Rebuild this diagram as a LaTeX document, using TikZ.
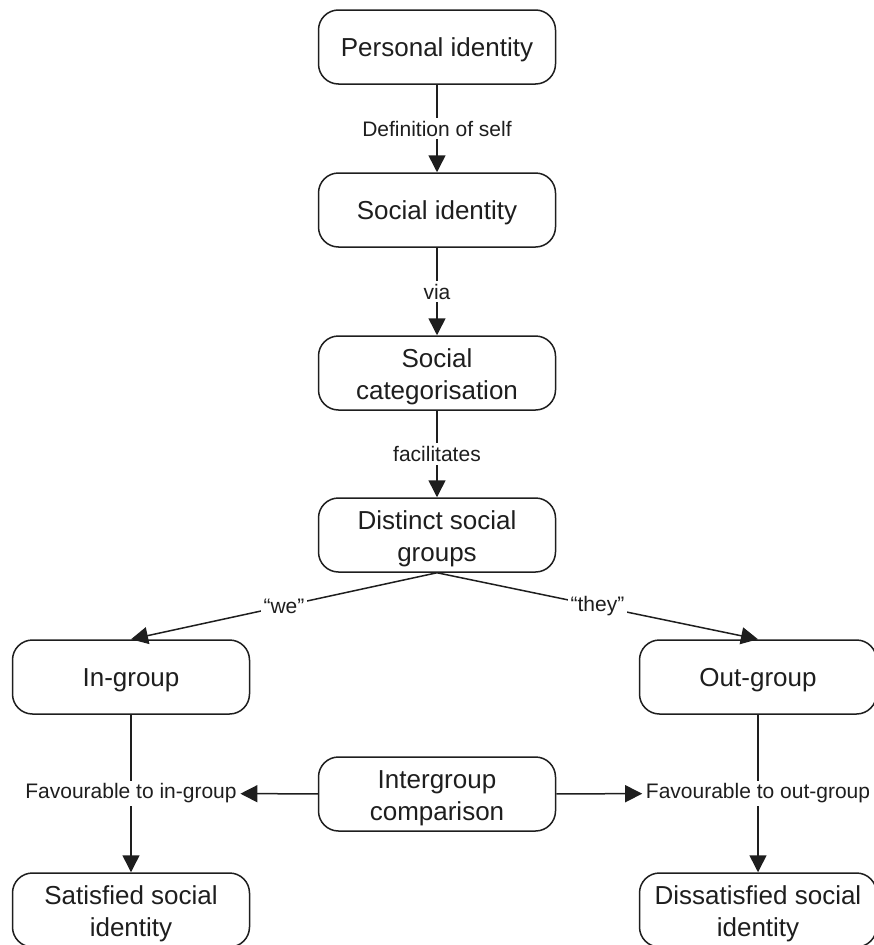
\documentclass[tikz,border=0pt]{standalone}
\usepackage{fontspec}
\setmainfont{Liberation Sans}
\usetikzlibrary{arrows.meta}
\definecolor{ink}{HTML}{1E1E1E}
\tikzset{
  box/.style={draw=ink, line width=1.5pt, rounded corners=20pt, minimum width=237pt,
    minimum height=74pt, align=center, inner sep=2pt, text=ink,
    font=\fontsize{26}{32}\selectfont, text height=24pt, text depth=5pt},
  twoline/.style={text height=57pt, text depth=5pt},
  link/.style={draw=ink, line width=1.5pt, -{Triangle[length=17pt,width=17pt]}},
  lab/.style={fill=white, inner sep=3pt, text=ink, font=\fontsize{21}{24}\selectfont}
}

\begin{document}
\begin{tikzpicture}[x=1pt,y=-1pt]
  \useasboundingbox (0,0) rectangle (873,945);

  \node[box] (pers) at (437,47) {Personal identity};
  \node[box] (soc) at (437,210) {Social identity};
  \node[box,twoline] (cat) at (437,373) {Social\\categorisation};
  \node[box,twoline] (dist) at (437,535) {Distinct social\\groups};
  \node[box] (ing) at (131,677) {In-group};
  \node[box] (outg) at (758,677) {Out-group};
  \node[box,twoline] (inter) at (437,794) {Intergroup\\comparison};
  \node[box,twoline] (sat) at (131,910) {Satisfied social\\identity};
  \node[box,twoline] (dis) at (758,910) {Dissatisfied social\\identity};

  \draw[link] (pers) -- node[lab] {Definition of self} (soc);
  \draw[link] (soc) -- node[lab] {via} (cat);
  \draw[link] (cat) -- node[lab] {facilitates} (dist);
  \draw[link] (dist.south) -- node[lab] {“we”} (ing.north);
  \draw[link] (dist.south) -- node[lab] {“they”} (outg.north);

  \draw[link] (ing) -- node[lab] (favin) {Favourable to in-group} (sat);
  \draw[link] (outg) -- node[lab] (favout) {Favourable to out-group} (dis);
  \draw[link] (inter) -- (favin);
  \draw[link] (inter) -- (favout);
\end{tikzpicture}
\end{document}
